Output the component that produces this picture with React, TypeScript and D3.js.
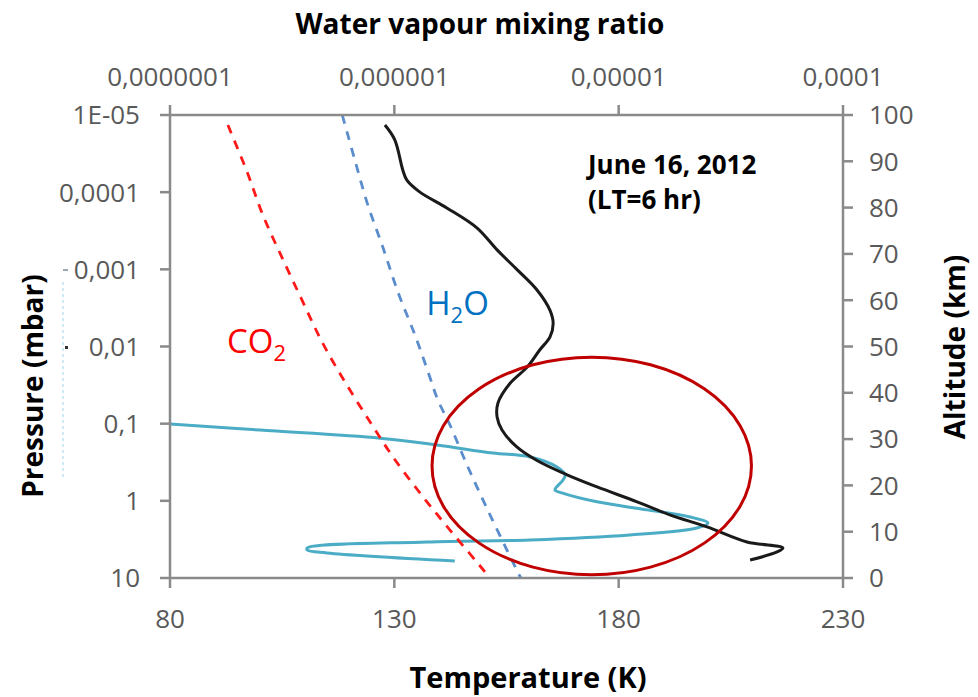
import React from "react";
import * as d3 from "d3";

// ---- axis ticks / labels ----
const tempTicks = [80, 130, 180, 230];
const pressureTicks = [1e-5, 1e-4, 1e-3, 1e-2, 0.1, 1, 10];
const pressureLabels = ["1E-05", "0,0001", "0,001", "0,01", "0,1", "1", "10"];
const mixTicks = [1e-7, 1e-6, 1e-5, 1e-4];
const mixLabels = ["0,0000001", "0,000001", "0,00001", "0,0001"];
const altTicks = [0, 10, 20, 30, 40, 50, 60, 70, 80, 90, 100];

// ---- temperature profile (K) vs pressure (mbar) ----
const profT = [127.9, 130.1, 131.9, 132.8, 135.7, 141.7, 148.4, 152.9, 157.3, 161.8, 164.7, 165.4, 164.7, 162.4, 159.6, 155.8, 153.1, 152.9, 154.0, 157.3, 161.8, 168.5, 175.2, 184.1, 191.4, 199.7, 208.6, 216.6, 215.3, 209.3];
const profP = [1.35e-5, 2.1e-5, 5.2e-5, 7.0e-5, 1.0e-4, 1.6e-4, 2.9e-4, 5.6e-4, 1.0e-3, 1.85e-3, 3.4e-3, 5.0e-3, 7.5e-3, 0.0111, 0.0185, 0.030, 0.054, 0.082, 0.121, 0.20, 0.30, 0.46, 0.66, 1.03, 1.52, 2.18, 3.41, 4.08, 4.6, 5.84];

// ---- CO2 condensation curve ----
const co2T = [92.9, 97.2, 100.7, 105.0, 109.4, 113.9, 119.0, 124.6, 129.7, 136.4, 142.4, 150.2, 151.2];
const co2P = [1.35e-5, 5.5e-5, 1.98e-4, 7.1e-4, 2.49e-3, 8.75e-3, 0.0288, 0.095, 0.27, 0.89, 2.39, 8.36, 10];

// ---- H2O condensation curve ----
const h2oT = [118.4, 121.2, 124.1, 127.5, 130.8, 134.6, 137.9, 139.7, 142.4, 146.2, 150.6, 155.1, 157.6, 158.2];
const h2oP = [1.0e-5, 3.83e-5, 1.47e-4, 5.28e-4, 1.97e-3, 7.1e-3, 0.0248, 0.0493, 0.104, 0.343, 1.24, 4.34, 8.6, 10];

// ---- water vapour mixing ratio profile ----
const wvQ = [1.0e-7, 2.52e-7, 8.63e-7, 1.55e-6, 2.75e-6, 4.03e-6, 5.31e-6, 5.77e-6, 5.65e-6, 5.2e-6, 5.58e-6, 8.0e-6, 1.34e-5, 2.08e-5, 2.5e-5, 2.23e-5, 1.12e-5, 4.03e-6, 1.4e-6, 4.09e-7, 4.09e-7, 5.01e-7, 1.86e-6];
const wvP = [0.101, 0.121, 0.154, 0.189, 0.24, 0.27, 0.364, 0.462, 0.537, 0.723, 0.79, 1.03, 1.31, 1.62, 1.94, 2.25, 2.77, 3.21, 3.41, 4.08, 4.34, 4.74, 6.02];

// ---- highlighted region (ellipse) in data units ----
const ellipseCenterT = 174.0;
const ellipseCenterP = 0.353;
const ellipseHalfWidthK = 35.6;
const ellipseHalfHeightDecades = 1.41;

const W = 978;
const H = 697;
const L = 170, R = 843, T = 115, B = 578;
const FONT = "'Open Sans', 'Noto Sans', sans-serif";
const AXIS = "#8a8a8a";
const TICKTXT = "#595959";

export default function App() {
  const x = d3.scaleLinear().domain([80, 230]).range([L, R]);
  const y = d3.scaleLog().domain([1e-5, 10]).range([T, B]);
  const xq = d3.scaleLog().domain([1e-7, 1e-4]).range([L, R]);
  const yAlt = d3.scaleLinear().domain([0, 100]).range([B, T]);

  const mk = (xs: number[], ps: number[], sx: (v: number) => number, curve: any) =>
    d3
      .line<number>()
      .x((i) => sx(xs[i]))
      .y((i) => y(ps[i]))
      .curve(curve)(d3.range(xs.length)) || "";

  const profPath = mk(profT, profP, x, d3.curveCatmullRom.alpha(0.5));
  const co2Path = mk(co2T, co2P, x, d3.curveCatmullRom.alpha(0.5));
  const h2oPath = mk(h2oT, h2oP, x, d3.curveCatmullRom.alpha(0.5));
  const wvPath = mk(wvQ, wvP, xq, d3.curveCatmullRom.alpha(0.5));

  const ecx = x(ellipseCenterT);
  const ecy = y(ellipseCenterP);
  const erx = x(ellipseCenterT + ellipseHalfWidthK) - ecx;
  const ery = y(ellipseCenterP * Math.pow(10, ellipseHalfHeightDecades)) - ecy;

  return (
    <svg
      width={W}
      height={H}
      style={{ position: "absolute", left: 0, top: 0, background: "#fff" }}
      fontFamily={FONT}
    >
      {/* faint artifact marks on left */}
      <line x1={63} x2={63} y1={282} y2={478} stroke="#bfe4f2" strokeWidth={1.5} strokeDasharray="3 3" />
      <line x1={63} x2={68} y1={270} y2={270} stroke="#7a8a9a" strokeWidth={1.5} />
      <rect x={65} y={346} width={3} height={3} fill="#333" />

      {/* data curves */}
      <path d={wvPath} fill="none" stroke="#4bacc6" strokeWidth={3} strokeLinejoin="round" />
      <path d={co2Path} fill="none" stroke="#ff1a1a" strokeWidth={2.8} strokeDasharray="9 8" />
      <path d={h2oPath} fill="none" stroke="#5b8ccc" strokeWidth={2.8} strokeDasharray="9 8" />
      <path d={profPath} fill="none" stroke="#1a1a1a" strokeWidth={3} strokeLinejoin="round" />

      {/* ellipse */}
      <ellipse cx={ecx} cy={ecy} rx={erx} ry={ery} fill="none" stroke="#c00000" strokeWidth={3} />

      {/* axes lines */}
      <line x1={L} x2={R} y1={T} y2={T} stroke={AXIS} strokeWidth={2.5} />
      <line x1={L} x2={R} y1={B} y2={B} stroke={AXIS} strokeWidth={2.5} />
      <line x1={L} x2={L} y1={T} y2={B} stroke={AXIS} strokeWidth={2.5} />
      <line x1={R} x2={R} y1={T} y2={B} stroke={AXIS} strokeWidth={2.5} />

      {/* left axis: pressure */}
      {pressureTicks.map((p, i) => (
        <g key={"p" + i}>
          <line x1={L - 10} x2={L} y1={y(p)} y2={y(p)} stroke={AXIS} strokeWidth={2.5} />
          <text x={140} y={y(p)} dy="0.36em" textAnchor="end" fontSize={26} fill={TICKTXT}>
            {pressureLabels[i]}
          </text>
        </g>
      ))}

      {/* right axis: altitude */}
      {altTicks.map((a) => (
        <g key={"a" + a}>
          <line x1={R} x2={R + 10} y1={yAlt(a)} y2={yAlt(a)} stroke={AXIS} strokeWidth={2.5} />
          <text x={869} y={yAlt(a)} dy="0.36em" textAnchor="start" fontSize={26} fill={TICKTXT}>
            {a}
          </text>
        </g>
      ))}

      {/* bottom axis: temperature */}
      {tempTicks.map((t) => (
        <g key={"t" + t}>
          <line x1={x(t)} x2={x(t)} y1={B} y2={B + 10} stroke={AXIS} strokeWidth={2.5} />
          <text x={x(t)} y={628} textAnchor="middle" fontSize={26} fill={TICKTXT}>
            {t}
          </text>
        </g>
      ))}

      {/* top axis: mixing ratio */}
      {mixTicks.map((q, i) => (
        <g key={"q" + i}>
          <line x1={xq(q)} x2={xq(q)} y1={T - 10} y2={T} stroke={AXIS} strokeWidth={2.5} />
          <text x={xq(q)} y={86} textAnchor="middle" fontSize={26} fill={TICKTXT}>
            {mixLabels[i]}
          </text>
        </g>
      ))}

      {/* axis titles */}
      <text x={480} y={34} textAnchor="middle" fontSize={28} fontWeight="bold" fill="#000">
        Water vapour mixing ratio
      </text>
      <text x={528} y={688} textAnchor="middle" fontSize={29} fontWeight="bold" fill="#000">
        Temperature (K)
      </text>
      <text transform="translate(43,386) rotate(-90)" textAnchor="middle" fontSize={28} fontWeight="bold" fill="#000">
        Pressure (mbar)
      </text>
      <text transform="translate(965,347) rotate(-90)" textAnchor="middle" fontSize={28} fontWeight="bold" fill="#000">
        Altitude (km)
      </text>

      {/* annotations */}
      <text x={588} y={174} fontSize={26} fontWeight="bold" fill="#000">
        June 16, 2012
      </text>
      <text x={588} y={209} fontSize={26} fontWeight="bold" fill="#000">
        (LT=6 hr)
      </text>
      <text x={x(92.7)} y={353} fontSize={33} fill="#ff0000">
        CO<tspan fontSize={22} dy={8}>2</tspan>
      </text>
      <text x={x(137.1)} y={315} fontSize={33} fill="#0070c0">
        H<tspan fontSize={22} dy={8}>2</tspan><tspan dy={-8}>O</tspan>
      </text>
    </svg>
  );
}
